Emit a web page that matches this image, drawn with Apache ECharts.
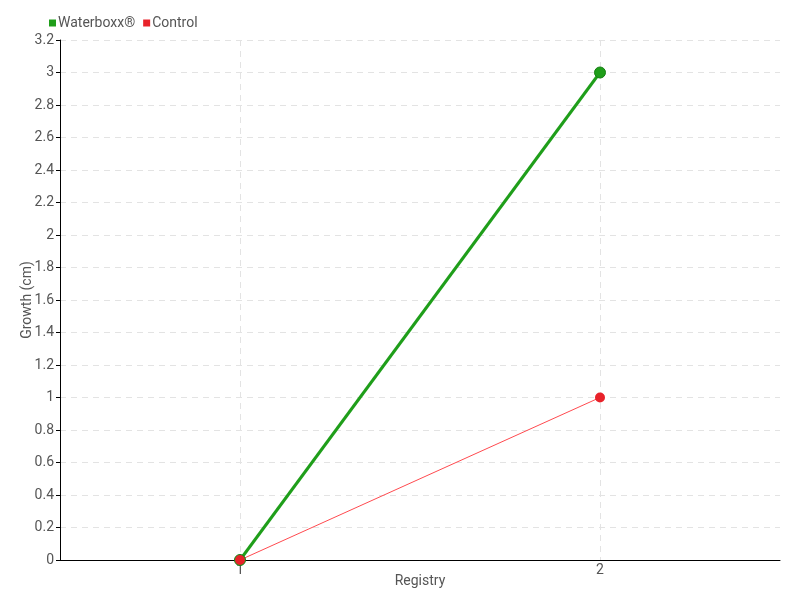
<!DOCTYPE html>
<html>
<head>
<meta charset="utf-8">
<script src="https://cdn.jsdelivr.net/npm/echarts@6/dist/echarts.min.js"></script>
<style>
  html, body { margin: 0; padding: 0; background: #fff; }
  #chart { width: 800px; height: 600px; }
</style>
</head>
<body>
<div id="chart"></div>
<script>
const categories = ["1", "2"];
const waterboxx = [0, 3];
const control = [0, 1];
const yTicks = ["0", "0.2", "0.4", "0.6", "0.8", "1", "1.2", "1.4", "1.6", "1.8", "2", "2.2", "2.4", "2.6", "2.8", "3", "3.2"];

const font = "Roboto, sans-serif";
const chart = echarts.init(document.getElementById("chart"));

const options = {
  animation: false,
  textStyle: { fontFamily: font, color: "#555555", fontSize: 14 },
  legend: {
    left: 44,
    top: 11,
    itemWidth: 7,
    itemHeight: 7,
    itemGap: 8,
    icon: "rect",
    itemStyle: { borderWidth: 0 },
    textStyle: { fontFamily: font, color: "#555555", fontSize: 14, padding: [0, 0, 0, -3] },
    data: ["Waterboxx®", "Control"],
  },
  grid: { left: 60, right: 20, top: 40, bottom: 40 },
  xAxis: {
    type: "category",
    data: categories,
    boundaryGap: true,
    name: "Registry",
    nameLocation: "center",
    nameGap: 14,
    nameMoveOverlap: false,
    nameTextStyle: { fontFamily: font, color: "#555555", fontSize: 14 },
    axisLine: { lineStyle: { color: "#000000", width: 1 } },
    axisTick: { alignWithLabel: true, length: 6, lineStyle: { color: "#555555" } },
    axisLabel: { fontFamily: font, color: "#555555", fontSize: 14, margin: 3 },
    splitLine: {
      show: true,
      alignWithLabel: true,
      lineStyle: { color: "#e3e3e3", type: [6, 5] },
    },
  },
  yAxis: {
    type: "value",
    min: 0,
    max: 3.2,
    interval: 0.2,
    name: "Growth (cm)",
    nameLocation: "center",
    nameGap: 26,
    nameMoveOverlap: false,
    nameTextStyle: { fontFamily: font, color: "#555555", fontSize: 14 },
    axisLine: { show: true, lineStyle: { color: "#000000", width: 1 } },
    axisTick: { show: true, length: 4, lineStyle: { color: "#000000" } },
    axisLabel: {
      fontFamily: font,
      color: "#555555",
      fontSize: 14,
      margin: 6,
      formatter: (v) => yTicks[Math.round(v / 0.2)] ?? "",
    },
    splitLine: { show: true, lineStyle: { color: "#e3e3e3", type: [6, 5] } },
  },
  series: [
    {
      name: "Waterboxx®",
      type: "line",
      data: waterboxx,
      color: "#1f9e1a",
      symbol: "circle",
      symbolSize: 11,
      lineStyle: { width: 3, color: "#1f9e1a" },
      itemStyle: { color: "#1f9e1a", borderColor: "#178014", borderWidth: 1 },
    },
    {
      name: "Control",
      type: "line",
      data: control,
      color: "#e8222a",
      symbol: "circle",
      symbolSize: 10,
      lineStyle: { width: 1, color: "#ff4a4f" },
      itemStyle: { color: "#e8222a", borderColor: "#e8222a", borderWidth: 0 },
    },
  ],
};

chart.setOption(options);
</script>
</body>
</html>
